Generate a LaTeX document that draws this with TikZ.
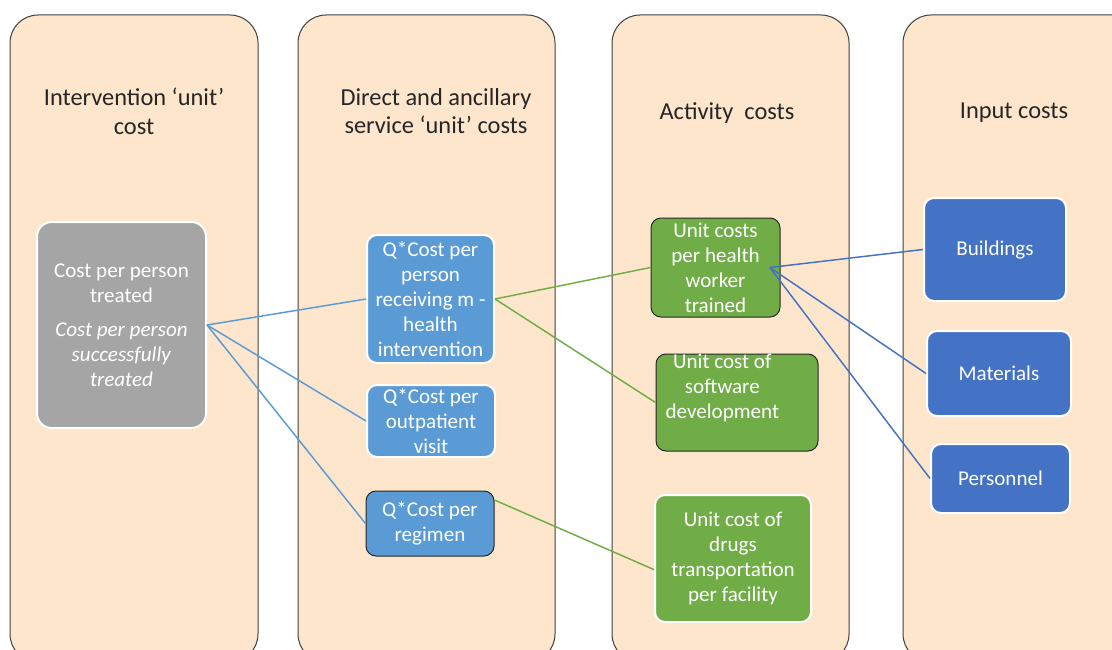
\documentclass[tikz,border=0pt]{standalone}
\usepackage{fontspec}
\setmainfont{Carlito}
\usepackage{tikz}
\usetikzlibrary{arrows}

\definecolor{peach}{RGB}{253,230,204}
\definecolor{greybox}{RGB}{165,165,165}
\definecolor{lightblue}{RGB}{91,155,213}
\definecolor{leafgreen}{RGB}{112,173,71}
\definecolor{darkblue}{RGB}{68,114,196}

\newcommand{\headsize}{\fontsize{18.3}{21.5}\selectfont}
\newcommand{\boxsize}{\fontsize{15.8}{18.75}\selectfont}

\tikzset{
  column/.style={draw=black!75, line width=0.75pt, fill=peach, rounded corners=21pt},
  head/.style={align=center, font=\headsize, text=black!85},
  costbox/.style={align=center, font=\boxsize, text=white, inner sep=1pt,
                  rounded corners=7.5pt, draw=white, line width=1.5pt},
  darkedge/.style={draw=black!85, line width=0.75pt},
  link/.style={line width=1.1pt}
}

\begin{document}
\begin{tikzpicture}[x=0.75pt,y=-0.75pt]
     \clip (0,0) rectangle (1112,649);
     \fill[white] (0,0) rectangle (1112,649);
     % the four columns
     \draw[column] (10,15) rectangle (258,662);
     \draw[column] (298,15) rectangle (555,662);
     \draw[column] (612,15) rectangle (849,662);
     \draw[column] (903,15) rectangle (1150,662);
     \node[head] at (134,111) (hint) {Intervention ‘unit’\\cost};
     \node[head] at (436,111) (hdir) {Direct and ancillary\\service ‘unit’ costs};
     \node[head] at (727,113) (hact) {Activity~ costs};
     \node[head] at (1014,113) (hinp) {Input costs};
     % boxes
     \node[costbox, fill=greybox, rounded corners=11pt, minimum width=126.75pt, minimum height=154.5pt]
          at (121.5,325) (pers) {Cost per person\\treated\\[7pt]\textit{Cost per person}\\\textit{successfully}\\\textit{treated}};
     \node[costbox, fill=lightblue, minimum width=95.25pt, minimum height=96pt]
          at (430.5,299) (recv) {Q*Cost per\\person\\receiving m -\\health\\intervention};
     \node[costbox, fill=lightblue, minimum width=96pt, minimum height=54pt]
          at (431,421) (outp) {Q*Cost per\\outpatient\\visit};
     \node[costbox, darkedge, fill=lightblue, minimum width=96pt, minimum height=48.75pt]
          at (430,523.5) (regi) {Q*Cost per\\regimen};
     \node[costbox, darkedge, fill=leafgreen, minimum width=96.75pt, minimum height=74.25pt]
          at (715.5,267.5) (trai) {Unit costs\\per health\\worker\\trained};
     \node[costbox, darkedge, fill=leafgreen, minimum width=121.5pt, minimum height=72.75pt,
           label={[align=center, font=\boxsize, text=white, xshift=-11pt, yshift=11pt]center:Unit cost of\\software\\development}]
          at (737,402.5) (soft) {};
     \node[costbox, fill=leafgreen, minimum width=117pt, minimum height=95.25pt]
          at (733,558.5) (drug) {Unit cost of\\drugs\\transportation\\per facility};
     \node[costbox, fill=darkblue, minimum width=106.5pt, minimum height=77.25pt]
          at (995,249.5) (buil) {Buildings};
     \node[costbox, fill=darkblue, minimum width=108pt, minimum height=63.75pt]
          at (999,373.5) (mate) {Materials};
     \node[costbox, fill=darkblue, minimum width=104.25pt, minimum height=51.75pt]
          at (1000.5,478.5) (staf) {Personnel};
     % links
     \path[link, draw=lightblue] (pers.east) edge (recv.west)
              (pers.east) edge (outp.west)
              (pers.east) edge (regi.west);
     \path[link, draw=leafgreen] (recv.east) edge (trai.west)
              (recv.east) edge (soft.west)
              (regi.20) edge (drug.188);
     \path[link, draw=darkblue] ([xshift=-8pt]trai.east) edge (buil.west)
              ([xshift=-8pt]trai.east) edge (mate.west)
              ([xshift=-8pt]trai.east) edge (staf.west);
\end{tikzpicture}
\end{document}
